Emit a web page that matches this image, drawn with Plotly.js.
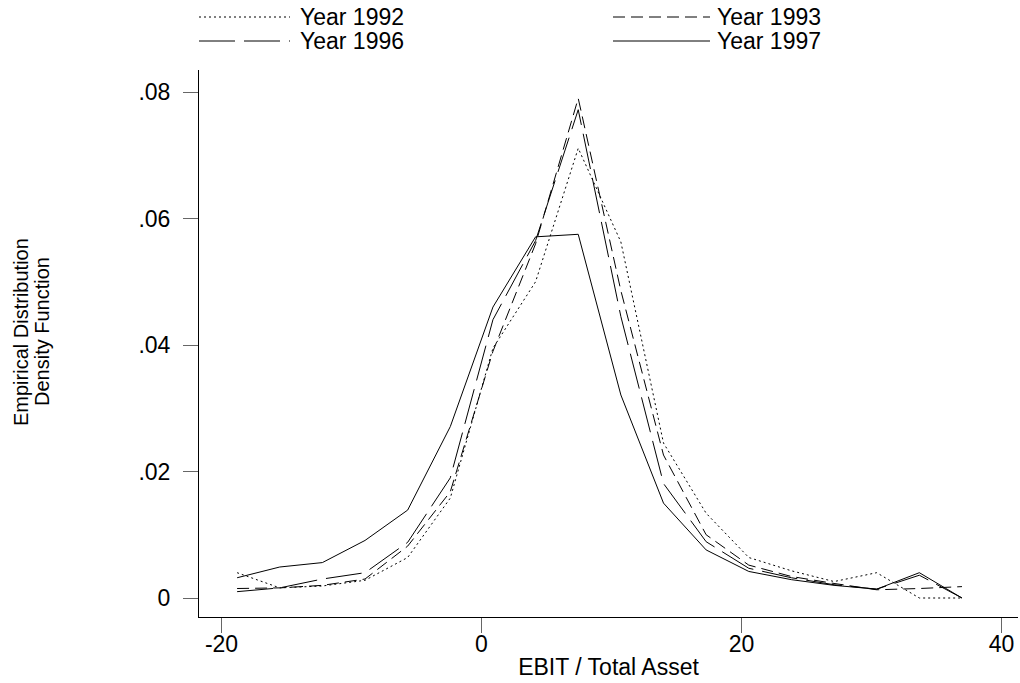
<!DOCTYPE html>
<html>
<head>
<meta charset="utf-8">
<script src="https://cdn.plot.ly/plotly-3.0.1.min.js"></script>
<style>html,body{margin:0;padding:0;background:#fff;}#chart{width:1020px;height:683px;}</style>
</head>
<body>
<div id="chart"></div>
<script>
// bin midpoints of EBIT / Total Asset (%)
var binMid = [-18.8, -15.52, -12.24, -8.96, -5.68, -2.4, 0.88, 4.16, 7.44, 10.72, 14.0, 17.28, 20.56, 23.84, 27.12, 30.4, 33.68, 36.96];

var density1992 = [0.0040, 0.0016, 0.0019, 0.0028, 0.0064, 0.0158, 0.0395, 0.0500, 0.0711, 0.0563, 0.0245, 0.0134, 0.0064, 0.0043, 0.0026, 0.0040, 0.0000, 0.0000];
var density1993 = [0.0015, 0.0016, 0.0020, 0.0030, 0.0082, 0.0168, 0.0390, 0.0560, 0.0790, 0.0486, 0.0226, 0.0100, 0.0052, 0.0034, 0.0023, 0.0013, 0.0015, 0.0018];
var density1996 = [0.0010, 0.0016, 0.0030, 0.0040, 0.0088, 0.0190, 0.0440, 0.0565, 0.0772, 0.0445, 0.0181, 0.0089, 0.0047, 0.0032, 0.0021, 0.0014, 0.0036, 0.0000];
var density1997 = [0.0032, 0.0049, 0.0056, 0.0091, 0.0139, 0.0271, 0.0460, 0.0571, 0.0575, 0.0321, 0.0150, 0.0076, 0.0042, 0.0029, 0.0020, 0.0014, 0.0040, 0.0000];

var seriesNames = ["Year 1992", "Year 1993", "Year 1996", "Year 1997"];
var yTickVals = [0, 0.02, 0.04, 0.06, 0.08];
var yTickText = ["0", ".02", ".04", ".06", ".08"];
var xTickVals = [-20, 0, 20, 40];
var xTickText = ["-20", "0", "20", "40"];
var yTitleLines = ["Empirical Distribution", "Density Function"];

var FONT = '"Liberation Sans", Arial, Helvetica, sans-serif';
var dashes = ["2px,3px", "12px,6px", "36px,9px", "solid"];
var allY = [density1992, density1993, density1996, density1997];

var traces = allY.map(function (ys, i) {
  return {
    type: "scatter", mode: "lines", x: binMid, y: ys, name: seriesNames[i],
    line: {color: "#000", width: 1, dash: dashes[i]}, showlegend: false,
    hoverinfo: "x+y+name"
  };
});

// plot area in pixels: left 199, right 1018, top 70, bottom 617
var L = 199, R = 1018, T = 70, B = 617;
function px(xp) { return (xp - L) / (R - L); }
function py(yp) { return (B - yp) / (B - T); }

// custom legend (two columns)
var legendPos = [
  {x0: 199, x1: 290, y: 17, tx: 298},
  {x0: 613, x1: 710, y: 17, tx: 715},
  {x0: 199, x1: 290, y: 41, tx: 298},
  {x0: 613, x1: 710, y: 41, tx: 715}
];
var shapes = [], annotations = [];
legendPos.forEach(function (p, i) {
  shapes.push({type: "line", xref: "paper", yref: "paper",
    x0: px(p.x0), x1: px(p.x1), y0: py(p.y), y1: py(p.y),
    line: {color: "#000", width: 1, dash: dashes[i]}});
  annotations.push({xref: "paper", yref: "paper", x: px(p.tx), y: py(p.y),
    xanchor: "left", yanchor: "middle", showarrow: false, text: seriesNames[i],
    font: {family: FONT, size: 23, color: "#000"}});
});

// y-axis title, two lines (rotated)
[21, 42].forEach(function (cx, i) {
  annotations.push({xref: "paper", yref: "paper", x: px(cx), y: py(332),
    xanchor: "center", yanchor: "middle", showarrow: false, textangle: -90,
    text: yTitleLines[i], font: {family: FONT, size: 20, color: "#000"}});
});

var layout = {
  width: 1020, height: 683,
  margin: {l: L, r: 1020 - R, t: T, b: 683 - B, pad: 0},
  paper_bgcolor: "#fff", plot_bgcolor: "#fff",
  font: {family: FONT, size: 23, color: "#000"},
  showlegend: false,
  xaxis: {
    range: [(L - 481.5) / 13, (R - 481.5) / 13],
    tickvals: xTickVals, ticktext: xTickText,
    showgrid: false, zeroline: false, showline: true, linecolor: "#000", linewidth: 1,
    ticks: "outside", ticklen: 15, tickcolor: "#666", tickwidth: 1,
    ticklabelstandoff: -9,
    tickfont: {family: FONT, size: 23, color: "#000"},
    title: {text: "EBIT / Total Asset", font: {family: FONT, size: 23, color: "#000"}, standoff: 3}
  },
  yaxis: {
    range: [-(B - 598) / 6325, (598 - T) / 6325],
    tickvals: yTickVals, ticktext: yTickText,
    showgrid: false, zeroline: false, showline: true, linecolor: "#000", linewidth: 1,
    ticks: "outside", ticklen: 15, tickcolor: "#666", tickwidth: 1,
    ticklabelstandoff: 8,
    tickfont: {family: FONT, size: 23, color: "#000"}
  },
  shapes: shapes,
  annotations: annotations
};

Plotly.newPlot("chart", traces, layout, {displayModeBar: false, staticPlot: true});
</script>
</body>
</html>
